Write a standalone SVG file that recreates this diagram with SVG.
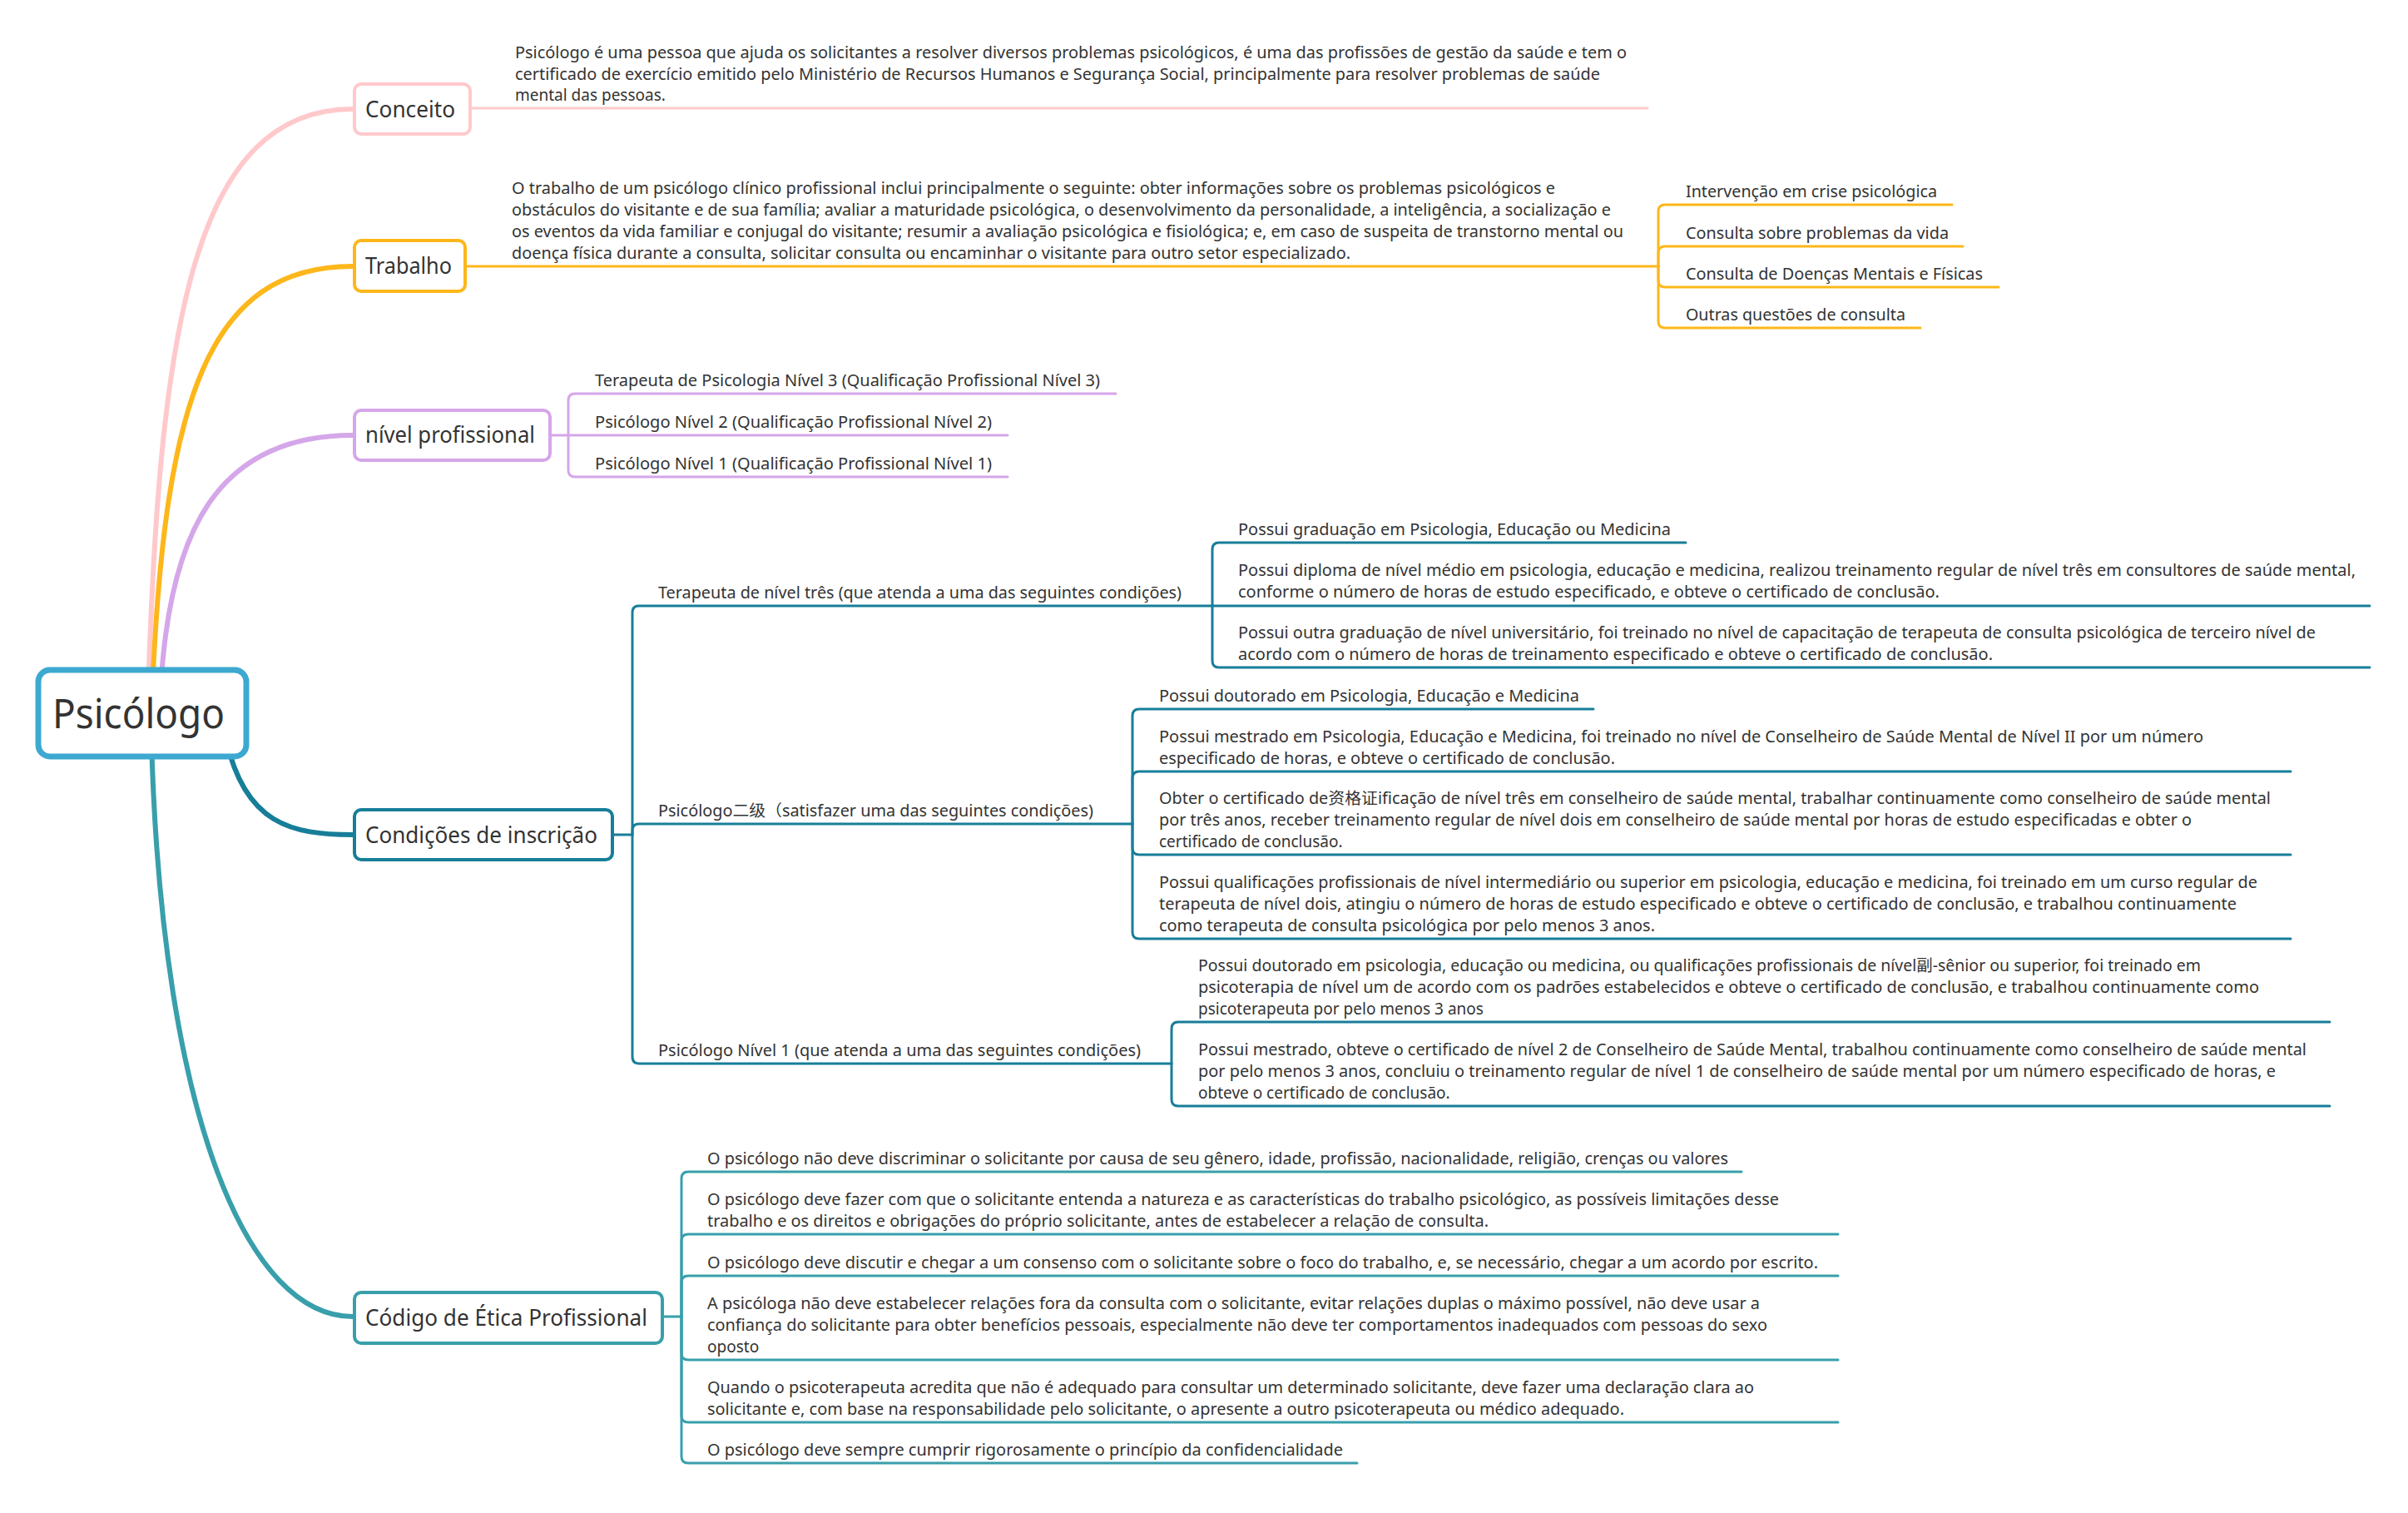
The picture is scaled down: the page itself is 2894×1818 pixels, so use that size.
<svg xmlns="http://www.w3.org/2000/svg" width="2894" height="1818" viewBox="0 0 2894 1818">
<style>
.t{font-family:"Noto Sans","Noto Sans CJK SC",sans-serif;font-size:19px;fill:#333333}
.m{font-family:"Noto Sans","Noto Sans CJK SC",sans-serif;font-size:27px;fill:#333333}
.r{font-family:"Noto Sans","Noto Sans CJK SC",sans-serif;font-size:50px;fill:#333333}
.c{fill:none;stroke-linecap:round;stroke-linejoin:round}
.main{stroke-width:6}
.sub{stroke-width:3}
.pk{stroke:#FFC9CC}
.or{stroke:#FDB71A}
.lv{stroke:#D5A6E9}
.dt{stroke:#177E99}
.tl{stroke:#389FAB}
.box{fill:#ffffff;stroke-width:4}
</style>
<rect x="0" y="0" width="2894" height="1818" fill="#ffffff"/>
<g id="connectors">
<path class="c main pk" d="M178,830 C192,400 230,131 424,131"/>
<path class="c main or" d="M183,830 C198,480 250,320 424,320"/>
<path class="c main lv" d="M193,830 C203,640 260,523 424,523"/>
<path class="c main dt" d="M272,890 C295,990 350,1003 424,1003"/>
<path class="c main tl" d="M182,890 C195,1350 300,1582 424,1582"/>
<path class="c sub pk" d="M567,130 H1980"/>
<path class="c sub or" d="M561,320 H1993"/>
<path class="c sub or" d="M1993,320 V254 Q1993,246 2001,246 H2346"/>
<path class="c sub or" d="M1993,320 V304 Q1993,296 2001,296 H2359"/>
<path class="c sub or" d="M1993,320 V337 Q1993,345 2001,345 H2402"/>
<path class="c sub or" d="M1993,320 V386 Q1993,394 2001,394 H2308"/>
<path class="c sub lv" d="M663,523 H683"/>
<path class="c sub lv" d="M683,523 V481 Q683,473 691,473 H1341"/>
<path class="c sub lv" d="M683,523 H1211"/>
<path class="c sub lv" d="M683,523 V565 Q683,573 691,573 H1211"/>
<path class="c sub dt" d="M738,1003 H760"/>
<path class="c sub dt" d="M760,1003 V736 Q760,728 768,728 H1457"/>
<path class="c sub dt" d="M760,1003 V998 Q760,990 768,990 H1361"/>
<path class="c sub dt" d="M760,1003 V1270 Q760,1278 768,1278 H1408"/>
<path class="c sub dt" d="M1457,728 V660 Q1457,652 1465,652 H2026"/>
<path class="c sub dt" d="M1457,728 H2848"/>
<path class="c sub dt" d="M1457,728 V794 Q1457,802 1465,802 H2848"/>
<path class="c sub dt" d="M1361,990 V860 Q1361,852 1369,852 H1915"/>
<path class="c sub dt" d="M1361,990 V935 Q1361,927 1369,927 H2753"/>
<path class="c sub dt" d="M1361,990 V1019 Q1361,1027 1369,1027 H2753"/>
<path class="c sub dt" d="M1361,990 V1120 Q1361,1128 1369,1128 H2753"/>
<path class="c sub dt" d="M1408,1278 V1236 Q1408,1228 1416,1228 H2800"/>
<path class="c sub dt" d="M1408,1278 V1321 Q1408,1329 1416,1329 H2800"/>
<path class="c sub tl" d="M798,1582 H819"/>
<path class="c sub tl" d="M819,1582 V1416 Q819,1408 827,1408 H2093"/>
<path class="c sub tl" d="M819,1582 V1491 Q819,1483 827,1483 H2209"/>
<path class="c sub tl" d="M819,1582 V1541 Q819,1533 827,1533 H2209"/>
<path class="c sub tl" d="M819,1582 V1626 Q819,1634 827,1634 H2209"/>
<path class="c sub tl" d="M819,1582 V1701 Q819,1709 827,1709 H2209"/>
<path class="c sub tl" d="M819,1582 V1750 Q819,1758 827,1758 H1631"/>
</g>
<g id="root">
<rect x="46" y="805" width="250" height="104" rx="14" fill="#ffffff" stroke="#3DA9D0" stroke-width="7"/>
<text class="r" x="63" y="875" textLength="207" lengthAdjust="spacingAndGlyphs">Psicólogo</text>
</g>
<g id="conceito">
<rect class="box pk" x="426" y="101" width="139" height="60" rx="8"/>
<text class="m" x="439" y="141" textLength="108" lengthAdjust="spacingAndGlyphs">Conceito</text>
</g>
<g id="conceito-texto">
<text class="t" x="619" y="70" textLength="1336" lengthAdjust="spacingAndGlyphs">Psicólogo é uma pessoa que ajuda os solicitantes a resolver diversos problemas psicológicos, é uma das profissões de gestão da saúde e tem o</text>
<text class="t" x="619" y="96" textLength="1304" lengthAdjust="spacingAndGlyphs">certificado de exercício emitido pelo Ministério de Recursos Humanos e Segurança Social, principalmente para resolver problemas de saúde</text>
<text class="t" x="619" y="121">mental das pessoas.</text>
</g>
<g id="trabalho">
<rect class="box or" x="426" y="289" width="133" height="61" rx="8"/>
<text class="m" x="439" y="329" textLength="104" lengthAdjust="spacingAndGlyphs">Trabalho</text>
</g>
<g id="trabalho-texto">
<text class="t" x="615" y="233" textLength="1254" lengthAdjust="spacingAndGlyphs">O trabalho de um psicólogo clínico profissional inclui principalmente o seguinte: obter informações sobre os problemas psicológicos e</text>
<text class="t" x="615" y="259" textLength="1321" lengthAdjust="spacingAndGlyphs">obstáculos do visitante e de sua família; avaliar a maturidade psicológica, o desenvolvimento da personalidade, a inteligência, a socialização e</text>
<text class="t" x="615" y="285" textLength="1336" lengthAdjust="spacingAndGlyphs">os eventos da vida familiar e conjugal do visitante; resumir a avaliação psicológica e fisiológica; e, em caso de suspeita de transtorno mental ou</text>
<text class="t" x="615" y="311" textLength="1008" lengthAdjust="spacingAndGlyphs">doença física durante a consulta, solicitar consulta ou encaminhar o visitante para outro setor especializado.</text>
</g>
<g id="trabalho-itens">
<text class="t" x="2026" y="237" textLength="302" lengthAdjust="spacingAndGlyphs">Intervenção em crise psicológica</text>
<text class="t" x="2026" y="287" textLength="316" lengthAdjust="spacingAndGlyphs">Consulta sobre problemas da vida</text>
<text class="t" x="2026" y="336" textLength="357" lengthAdjust="spacingAndGlyphs">Consulta de Doenças Mentais e Físicas</text>
<text class="t" x="2026" y="385" textLength="264" lengthAdjust="spacingAndGlyphs">Outras questões de consulta</text>
</g>
<g id="nivel">
<rect class="box lv" x="426" y="493" width="235" height="60" rx="8"/>
<text class="m" x="439" y="532" textLength="204" lengthAdjust="spacingAndGlyphs">nível profissional</text>
</g>
<g id="nivel-itens">
<text class="t" x="715" y="464" textLength="607" lengthAdjust="spacingAndGlyphs">Terapeuta de Psicologia Nível 3 (Qualificação Profissional Nível 3)</text>
<text class="t" x="715" y="514" textLength="477" lengthAdjust="spacingAndGlyphs">Psicólogo Nível 2 (Qualificação Profissional Nível 2)</text>
<text class="t" x="715" y="564" textLength="477" lengthAdjust="spacingAndGlyphs">Psicólogo Nível 1 (Qualificação Profissional Nível 1)</text>
</g>
<g id="condicoes">
<rect class="box dt" x="426" y="973" width="310" height="60" rx="8"/>
<text class="m" x="439" y="1013" textLength="279" lengthAdjust="spacingAndGlyphs">Condições de inscrição</text>
</g>
<g id="cond-nivel3">
<text class="t" x="791" y="719" textLength="629" lengthAdjust="spacingAndGlyphs">Terapeuta de nível três (que atenda a uma das seguintes condições)</text>
<text class="t" x="1488" y="643" textLength="520" lengthAdjust="spacingAndGlyphs">Possui graduação em Psicologia, Educação ou Medicina</text>
<text class="t" x="1488" y="692" textLength="1343" lengthAdjust="spacingAndGlyphs">Possui diploma de nível médio em psicologia, educação e medicina, realizou treinamento regular de nível três em consultores de saúde mental,</text>
<text class="t" x="1488" y="718" textLength="843" lengthAdjust="spacingAndGlyphs">conforme o número de horas de estudo especificado, e obteve o certificado de conclusão.</text>
<text class="t" x="1488" y="767" textLength="1295" lengthAdjust="spacingAndGlyphs">Possui outra graduação de nível universitário, foi treinado no nível de capacitação de terapeuta de consulta psicológica de terceiro nível de</text>
<text class="t" x="1488" y="793" textLength="907" lengthAdjust="spacingAndGlyphs">acordo com o número de horas de treinamento especificado e obteve o certificado de conclusão.</text>
</g>
<g id="cond-nivel2">
<text class="t" x="791" y="981" textLength="523" lengthAdjust="spacingAndGlyphs">Psicólogo二级（satisfazer uma das seguintes condições)</text>
<text class="t" x="1393" y="843" textLength="505" lengthAdjust="spacingAndGlyphs">Possui doutorado em Psicologia, Educação e Medicina</text>
<text class="t" x="1393" y="892" textLength="1255" lengthAdjust="spacingAndGlyphs">Possui mestrado em Psicologia, Educação e Medicina, foi treinado no nível de Conselheiro de Saúde Mental de Nível II por um número</text>
<text class="t" x="1393" y="918" textLength="548" lengthAdjust="spacingAndGlyphs">especificado de horas, e obteve o certificado de conclusão.</text>
<text class="t" x="1393" y="966" textLength="1336" lengthAdjust="spacingAndGlyphs">Obter o certificado de资格证ificação de nível três em conselheiro de saúde mental, trabalhar continuamente como conselheiro de saúde mental</text>
<text class="t" x="1393" y="992" textLength="1241" lengthAdjust="spacingAndGlyphs">por três anos, receber treinamento regular de nível dois em conselheiro de saúde mental por horas de estudo especificadas e obter o</text>
<text class="t" x="1393" y="1018">certificado de conclusão.</text>
<text class="t" x="1393" y="1067" textLength="1320" lengthAdjust="spacingAndGlyphs">Possui qualificações profissionais de nível intermediário ou superior em psicologia, educação e medicina, foi treinado em um curso regular de</text>
<text class="t" x="1393" y="1093" textLength="1295" lengthAdjust="spacingAndGlyphs">terapeuta de nível dois, atingiu o número de horas de estudo especificado e obteve o certificado de conclusão, e trabalhou continuamente</text>
<text class="t" x="1393" y="1119" textLength="596" lengthAdjust="spacingAndGlyphs">como terapeuta de consulta psicológica por pelo menos 3 anos.</text>
</g>
<g id="cond-nivel1">
<text class="t" x="791" y="1269" textLength="580" lengthAdjust="spacingAndGlyphs">Psicólogo Nível 1 (que atenda a uma das seguintes condições)</text>
<text class="t" x="1440" y="1167" textLength="1205" lengthAdjust="spacingAndGlyphs">Possui doutorado em psicologia, educação ou medicina, ou qualificações profissionais de nível副-sênior ou superior, foi treinado em</text>
<text class="t" x="1440" y="1193" textLength="1275" lengthAdjust="spacingAndGlyphs">psicoterapia de nível um de acordo com os padrões estabelecidos e obteve o certificado de conclusão, e trabalhou continuamente como</text>
<text class="t" x="1440" y="1219">psicoterapeuta por pelo menos 3 anos</text>
<text class="t" x="1440" y="1268" textLength="1332" lengthAdjust="spacingAndGlyphs">Possui mestrado, obteve o certificado de nível 2 de Conselheiro de Saúde Mental, trabalhou continuamente como conselheiro de saúde mental</text>
<text class="t" x="1440" y="1294" textLength="1295" lengthAdjust="spacingAndGlyphs">por pelo menos 3 anos, concluiu o treinamento regular de nível 1 de conselheiro de saúde mental por um número especificado de horas, e</text>
<text class="t" x="1440" y="1320">obteve o certificado de conclusão.</text>
</g>
<g id="codigo">
<rect class="box tl" x="426" y="1553" width="370" height="61" rx="8"/>
<text class="m" x="439" y="1593" textLength="339" lengthAdjust="spacingAndGlyphs">Código de Ética Profissional</text>
</g>
<g id="codigo-itens">
<text class="t" x="850" y="1399" textLength="1227" lengthAdjust="spacingAndGlyphs">O psicólogo não deve discriminar o solicitante por causa de seu gênero, idade, profissão, nacionalidade, religião, crenças ou valores</text>
<text class="t" x="850" y="1448" textLength="1288" lengthAdjust="spacingAndGlyphs">O psicólogo deve fazer com que o solicitante entenda a natureza e as características do trabalho psicológico, as possíveis limitações desse</text>
<text class="t" x="850" y="1474" textLength="939" lengthAdjust="spacingAndGlyphs">trabalho e os direitos e obrigações do próprio solicitante, antes de estabelecer a relação de consulta.</text>
<text class="t" x="850" y="1524" textLength="1335" lengthAdjust="spacingAndGlyphs">O psicólogo deve discutir e chegar a um consenso com o solicitante sobre o foco do trabalho, e, se necessário, chegar a um acordo por escrito.</text>
<text class="t" x="850" y="1573" textLength="1265" lengthAdjust="spacingAndGlyphs">A psicóloga não deve estabelecer relações fora da consulta com o solicitante, evitar relações duplas o máximo possível, não deve usar a</text>
<text class="t" x="850" y="1599" textLength="1274" lengthAdjust="spacingAndGlyphs">confiança do solicitante para obter benefícios pessoais, especialmente não deve ter comportamentos inadequados com pessoas do sexo</text>
<text class="t" x="850" y="1625">oposto</text>
<text class="t" x="850" y="1674" textLength="1258" lengthAdjust="spacingAndGlyphs">Quando o psicoterapeuta acredita que não é adequado para consultar um determinado solicitante, deve fazer uma declaração clara ao</text>
<text class="t" x="850" y="1700" textLength="1102" lengthAdjust="spacingAndGlyphs">solicitante e, com base na responsabilidade pelo solicitante, o apresente a outro psicoterapeuta ou médico adequado.</text>
<text class="t" x="850" y="1749" textLength="764" lengthAdjust="spacingAndGlyphs">O psicólogo deve sempre cumprir rigorosamente o princípio da confidencialidade</text>
</g>
</svg>
